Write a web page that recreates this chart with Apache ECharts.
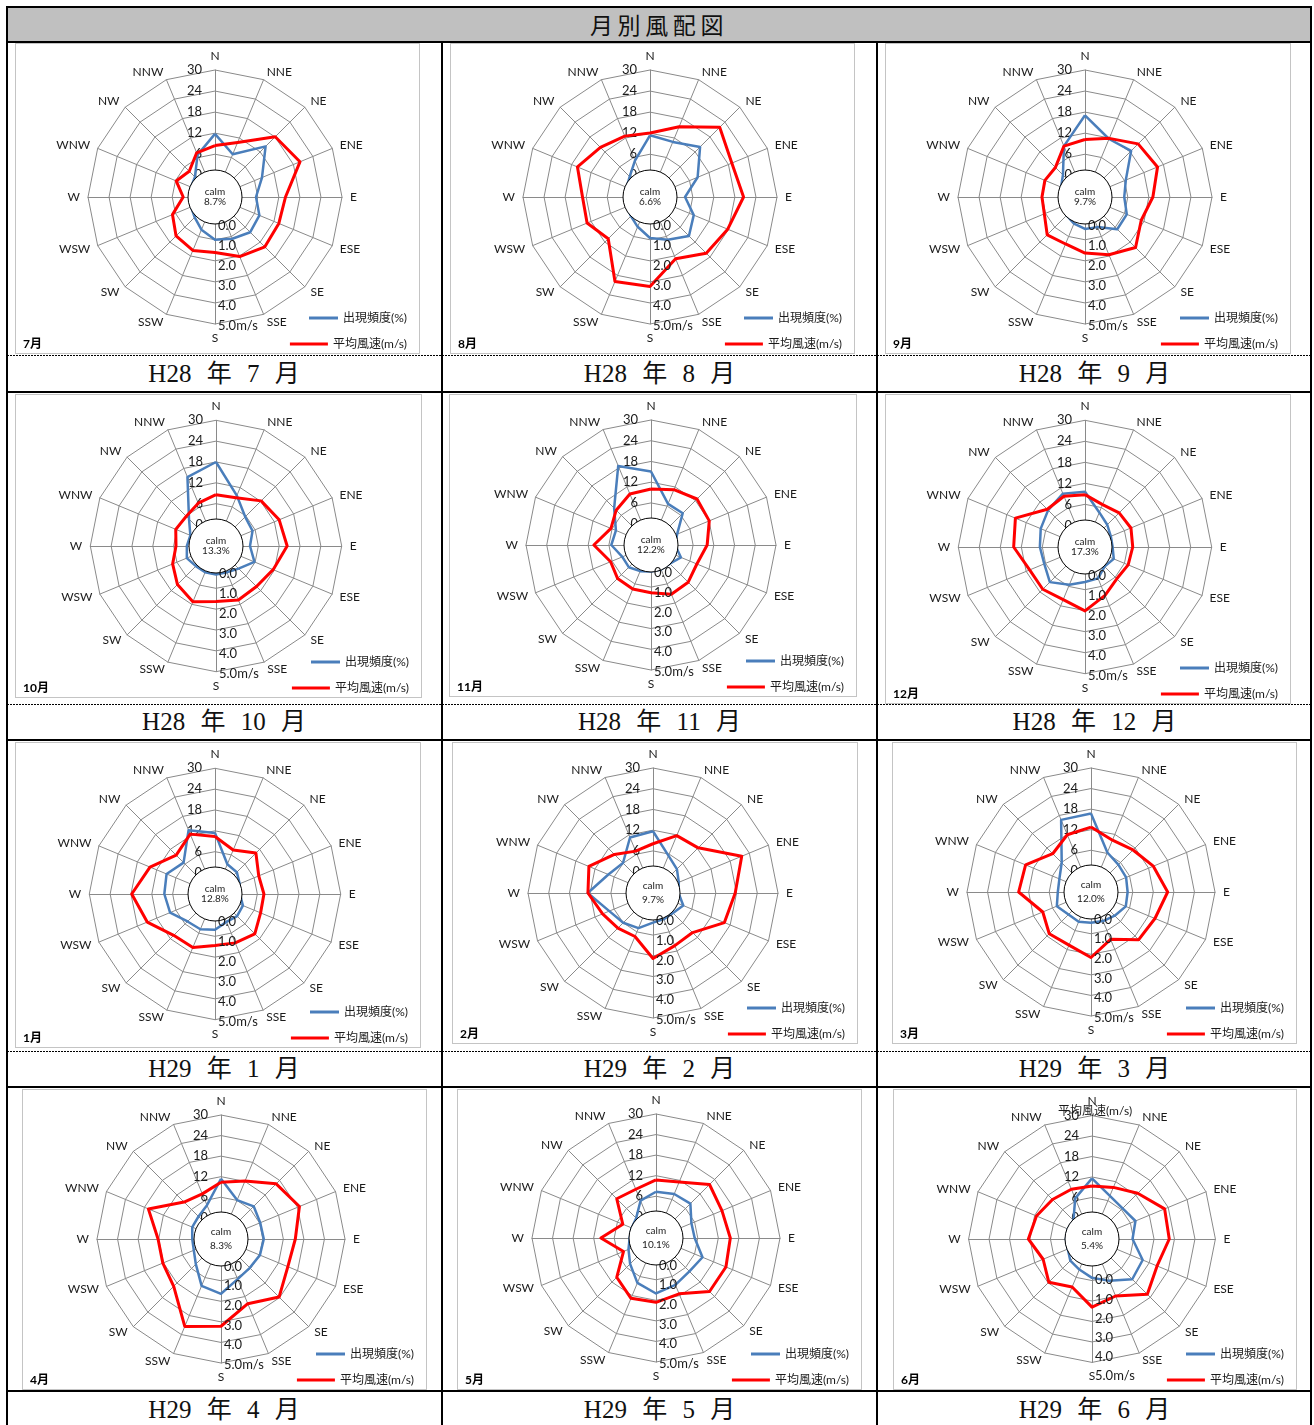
<!DOCTYPE html>
<html>
<head>
<meta charset="utf-8">
<script src="https://cdn.jsdelivr.net/npm/echarts@6/dist/echarts.min.js"></script>
<style>
  body { margin: 0; background: #fff; width: 1314px; height: 1425px; overflow: hidden; position: relative; }
  .hl { position: absolute; height: 2px; background: #000; }
  .vl { position: absolute; width: 2px; background: #000; }
  .dash { position: absolute; height: 1px; background: repeating-linear-gradient(to right, #000 0 2px, transparent 2px 3px); }
  .cap { position: absolute; text-align: center; font-family: 'Liberation Serif', 'Noto Sans CJK JP', serif;
         font-size: 25px; word-spacing: 9px; color: #111; }
  .chart { position: absolute; outline: 1px solid #c4c4c4; outline-offset: -1px; }
  #head { position: absolute; left: 8px; top: 8px; width: 1302px; height: 33px; background: #c0c0c0;
          font-family: 'Noto Sans CJK JP', sans-serif; font-size: 23px; letter-spacing: 4.6px;
          text-align: center; line-height: 33px; color: #111; }
</style>
</head>
<body>
<div id="head">月別風配図</div>
<div id="grid"></div>
<script>
// 16 directions, clockwise from N
const dirs = ['N', 'NNE', 'NE', 'ENE', 'E', 'ESE', 'SE', 'SSE', 'S', 'SSW', 'SW', 'WSW', 'W', 'WNW', 'NW', 'NNW'];

const months = ['7月', '8月', '9月', '10月', '11月', '12月', '1月', '2月', '3月', '4月', '5月', '6月'];
const captions = ['H28 年 7 月', 'H28 年 8 月', 'H28 年 9 月', 'H28 年 10 月', 'H28 年 11 月', 'H28 年 12 月',
                  'H29 年 1 月', 'H29 年 2 月', 'H29 年 3 月', 'H29 年 4 月', 'H29 年 5 月', 'H29 年 6 月'];
const calm = [8.7, 6.6, 9.7, 13.3, 12.2, 17.3, 12.8, 9.7, 12.0, 8.3, 10.1, 5.4];

const freqTicks = [0, 6, 12, 18, 24, 30];
const speedTicks = [0, 1, 2, 3, 4, 5];

// 出現頻度(%)
const freq07 = [11.8, 7.0, 14.2, 8.3, 5.5, 7.5, 8.0, 6.7, 6.0, 3.9, 2.0, 1.2, 1.0, 1.2, 1.9, 6.8];
const freq08 = [11.4, 10.8, 14.0, 8.5, 3.8, 7.3, 9.5, 7.0, 5.5, 3.0, 1.5, 1.0, 1.0, 1.0, 2.0, 5.0];
const freq09 = [17.1, 11.7, 12.4, 6.4, 5.0, 6.7, 6.8, 3.1, 2.9, 2.0, 1.2, 1.0, 1.0, 1.2, 2.7, 9.5];
const freq10 = [18.0, 9.5, 5.7, 5.2, 3.6, 5.8, 3.0, 2.0, 2.0, 2.0, 2.0, 2.9, 2.2, 1.8, 4.8, 15.3];
const freq11 = [15.1, 6.7, 6.8, 2.0, 0.8, 3.2, 1.5, 1.5, 1.5, 2.0, 2.9, 2.8, 5.3, 4.8, 8.9, 18.6];
const freq12 = [9.6, 4.5, 2.8, 1.8, 1.7, 2.7, 1.7, 3.5, 3.8, 5.5, 8.0, 6.4, 6.7, 7.5, 8.7, 10.3];
const freq01 = [11.4, 3.1, 2.7, 1.5, 1.0, 2.5, 2.8, 2.5, 4.1, 4.8, 5.0, 7.8, 8.4, 8.9, 6.6, 13.7];
const freq02 = [11.7, 5.5, 3.6, 1.9, 1.2, 3.3, 2.0, 2.0, 2.4, 4.8, 6.0, 7.5, 12.7, 7.8, 6.1, 11.2];
const freq03 = [16.7, 6.3, 5.1, 4.9, 4.5, 4.8, 3.6, 3.0, 2.8, 3.2, 3.1, 4.6, 3.5, 3.8, 5.9, 16.6];
const freq04 = [11.4, 6.1, 7.3, 6.2, 6.3, 6.1, 5.7, 6.5, 9.8, 8.6, 4.2, 2.4, 2.2, 2.9, 3.1, 4.5];
const freq05 = [7.3, 7.7, 8.0, 5.0, 5.1, 8.5, 7.6, 8.6, 10.0, 8.0, 4.5, 2.5, 1.5, 1.5, 2.0, 5.6];
const freq06 = [11.6, 7.5, 6.5, 7.6, 5.7, 9.9, 10.5, 7.1, 5.2, 3.5, 2.8, 1.5, 1.5, 1.5, 1.5, 6.7];

// 平均風速(m/s)
const spd07 = [1.15, 1.53, 2.83, 3.17, 2.1, 2.03, 2.1, 1.8, 1.35, 1.47, 1.33, 0.88, 0.17, 0.68, 0.4, 0.97];
const spd08 = [1.78, 2.38, 3.5, 3.0, 3.25, 2.78, 2.55, 1.92, 3.05, 3.15, 1.53, 1.98, 1.95, 2.5, 2.08, 1.87];
const spd09 = [1.45, 1.75, 2.33, 2.5, 1.97, 1.62, 2.15, 1.7, 1.38, 1.12, 1.25, 0.78, 0.73, 0.75, 0.67, 1.33];
const spd10 = [1.17, 1.22, 1.8, 2.03, 2.17, 1.7, 1.47, 1.53, 1.38, 1.63, 1.33, 0.95, 0.6, 0.78, 0.7, 0.92];
const spd11 = [1.42, 1.62, 1.88, 1.78, 1.43, 1.1, 1.25, 1.28, 1.0, 1.0, 0.98, 0.8, 1.48, 0.78, 1.08, 1.38];
const spd12 = [1.2, 0.88, 1.0, 1.07, 0.97, 0.92, 0.83, 1.2, 1.78, 1.43, 1.57, 1.58, 2.15, 2.35, 1.25, 1.33];
const spd01 = [1.48, 0.98, 1.5, 0.97, 1.05, 1.07, 1.42, 1.25, 1.18, 1.5, 1.53, 2.28, 2.78, 2.13, 1.35, 1.85];
const spd02 = [1.08, 1.73, 1.82, 3.45, 2.75, 2.5, 1.42, 1.47, 1.9, 0.97, 1.1, 1.35, 1.88, 2.1, 1.35, 0.88];
const spd03 = [1.9, 1.45, 1.62, 2.03, 2.5, 2.12, 2.03, 1.2, 1.93, 1.52, 1.6, 1.25, 2.28, 2.2, 1.35, 1.75];
const spd04 = [1.48, 1.79, 2.57, 2.92, 2.38, 2.28, 2.78, 2.16, 3.04, 3.42, 2.0, 1.8, 1.8, 2.6, 1.25, 1.08];
const spd05 = [1.55, 1.68, 2.45, 2.23, 2.38, 2.45, 2.45, 1.67, 1.87, 1.92, 1.42, 0.38, 1.4, 0.42, 1.42, 1.28];
const spd06 = [1.3, 1.45, 1.9, 2.62, 2.55, 2.2, 2.6, 1.75, 2.08, 1.25, 1.72, 1.3, 1.85, 1.67, 1.45, 1.35];

const freqs = [freq07, freq08, freq09, freq10, freq11, freq12, freq01, freq02, freq03, freq04, freq05, freq06];
const speeds = [spd07, spd08, spd09, spd10, spd11, spd12, spd01, spd02, spd03, spd04, spd05, spd06];

// page layout: chart box [x, y, w, h], radar centre inside box [cx, cy], outer radius
const boxes = [
  [15, 43, 405, 311, 200, 154, 127], [450, 43, 405, 311, 200, 154, 127], [885, 43, 406, 311, 200, 154, 127],
  [15, 394, 407, 304, 201, 152, 125.7], [449, 394, 408, 303, 202, 151, 125], [885, 394, 406, 310, 200, 153, 126.7],
  [15, 742, 406, 306, 200, 152, 125.7], [452, 742, 406, 302, 201, 151, 125], [892, 742, 405, 302, 199, 150, 124],
  [22, 1089, 405, 301, 199, 150, 124], [457, 1089, 405, 301, 199, 149, 124], [893, 1089, 404, 301, 199, 150, 123.4]
];
const calmLineHeight = [10, 10, 10, 10, 10, 10, 10, 14, 14, 14, 14, 14];
const cols = [[6, 442], [442, 877], [877, 1312]];
const capRows = [[355, 392], [704, 740], [1051, 1087], [1391, 1429]];

const FONT = 'Lato, "Noto Sans CJK JP", sans-serif';
const BLUE = '#4a7ebb';
const RED = '#ff0000';
const GRID = '#8a8a8a';

// echarts lays radar indicators out counter-clockwise
const ccw = [0, 15, 14, 13, 12, 11, 10, 9, 8, 7, 6, 5, 4, 3, 2, 1];
const ccwData = arr => ccw.map(k => arr[k]);
const indicators = (ticks, labelDir) => ccw.map(k => ({
  name: dirs[k], min: ticks[0], max: ticks[ticks.length - 1],
  axisLabel: { show: dirs[k] === labelDir }
}));

// table lines and captions
const grid = document.getElementById('grid');
function addDiv(cls, css, text) {
  const d = document.createElement('div');
  d.className = cls;
  Object.assign(d.style, css);
  if (text) d.textContent = text;
  grid.appendChild(d);
  return d;
}
addDiv('hl', { left: '6px', top: '6px', width: '1306px' });
addDiv('hl', { left: '6px', top: '41px', width: '1306px' });
[391, 739, 1086, 1390].forEach(y => addDiv('hl', { left: '6px', top: y + 'px', width: '1306px' }));
[355, 704, 1051].forEach(y => addDiv('dash', { left: '7px', top: y + 'px', width: '1304px' }));
addDiv('vl', { left: '6px', top: '6px', height: '1419px' });
addDiv('vl', { left: '1310px', top: '6px', height: '1419px' });
[441, 876].forEach(x => addDiv('vl', { left: x + 'px', top: '42px', height: '1383px' }));
captions.forEach((c, i) => {
  const col = cols[i % 3], row = capRows[Math.floor(i / 3)];
  addDiv('cap', { left: col[0] + 'px', width: (col[1] - col[0]) + 'px', top: row[0] + 'px',
                  height: (row[1] - row[0]) + 'px', lineHeight: (row[1] - row[0]) + 'px' }, c);
});

function makeOption(i) {
  const [bx, by, w, h, cx, cy, R] = boxes[i];
  const last = i === 11;
  // speed scale labels of the June chart sit lower than its polygon
  const labShift = last ? 14 : 0;
  const spdR = [R * 0.2235, R * 1.013];
  const labR = last ? [27.3, 123.3] : spdR;
  const hidden = {
    shape: 'polygon', startAngle: 90, splitNumber: 5,
    axisName: { show: false }, axisLine: { show: false }, splitLine: { show: false },
    splitArea: { show: false }, axisTick: { show: false }
  };
  const titles = [{ text: months[i], left: 8, bottom: 4, padding: 0,
    textStyle: { fontSize: 12, fontWeight: 'bold', color: '#000', fontFamily: FONT } }];
  if (last) {
    titles.push({ text: '平均風速(m/s)', left: 165, top: 16, padding: 0,
      textStyle: { fontSize: 12, fontWeight: 'normal', color: '#1a1a1a', fontFamily: FONT } });
  }
  const legendBase = { right: 13, padding: 0, icon: 'rect', itemHeight: 3, selectedMode: false,
    textStyle: { fontSize: 12, color: '#1a1a1a', fontFamily: FONT } };
  return {
    animation: false,
    title: titles,
    legend: [
      Object.assign({ data: ['出現頻度(%)'], bottom: 30, itemWidth: 29 }, legendBase),
      Object.assign({ data: ['平均風速(m/s)'], bottom: 4, itemWidth: 38 }, legendBase)
    ],
    radar: [
      {
        center: [cx, cy], radius: [R * 0.171, R], startAngle: 90, splitNumber: 5, shape: 'polygon',
        indicator: indicators(freqTicks, 'N'),
        nameGap: 8,
        axisName: { color: '#1a1a1a', fontSize: 12, fontFamily: FONT },
        axisLine: { lineStyle: { color: GRID, width: 1 } },
        splitLine: { lineStyle: { color: GRID, width: 1 } },
        splitArea: { show: false },
        axisTick: { show: false },
        axisLabel: { show: false, margin: 13, fontSize: 13, color: '#1a1a1a', fontFamily: FONT },
        z: 1
      },
      Object.assign({ center: [cx, cy], radius: spdR, indicator: indicators(speedTicks, null),
        axisLabel: { show: false } }, hidden),
      Object.assign({ center: [cx, cy + labShift], radius: labR, indicator: indicators(speedTicks, 'S'),
        axisLabel: { show: false, margin: 3, fontSize: 13, color: '#1a1a1a', fontFamily: FONT,
          formatter: v => v === 5 ? '5.0m/s' : v.toFixed(1) },
        z: 4 }, hidden)
    ],
    series: [
      {
        type: 'radar', radarIndex: 0, symbol: 'none', z: 2,
        lineStyle: { color: BLUE, width: 2.5 }, itemStyle: { color: BLUE },
        data: [{ value: ccwData(freqs[i]), name: '出現頻度(%)' }]
      },
      {
        type: 'radar', radarIndex: 1, symbol: 'none', z: 2,
        lineStyle: { color: RED, width: 3 }, itemStyle: { color: RED },
        data: [{ value: ccwData(speeds[i]), name: '平均風速(m/s)' }]
      },
      {
        type: 'pie', center: [cx, cy], radius: [0, 27], z: 3, silent: true,
        label: { show: true, position: 'center', formatter: 'calm\n' + calm[i].toFixed(1) + '%',
          fontSize: 10, lineHeight: calmLineHeight[i], color: '#222', fontFamily: FONT },
        labelLine: { show: false },
        itemStyle: { color: '#fff', borderColor: '#000', borderWidth: 1 },
        emphasis: { disabled: true },
        data: [{ value: 1, name: 'calm' }]
      }
    ]
  };
}

const charts = boxes.map((b, i) => {
  const d = document.createElement('div');
  d.className = 'chart';
  Object.assign(d.style, { left: b[0] + 'px', top: b[1] + 'px', width: b[2] + 'px', height: b[3] + 'px' });
  document.body.appendChild(d);
  const chart = echarts.init(d);
  chart.setOption(makeOption(i));
  return chart;
});

window.addEventListener('resize', () => {
  charts.forEach(c => c.resize());
});
</script>
</body>
</html>
